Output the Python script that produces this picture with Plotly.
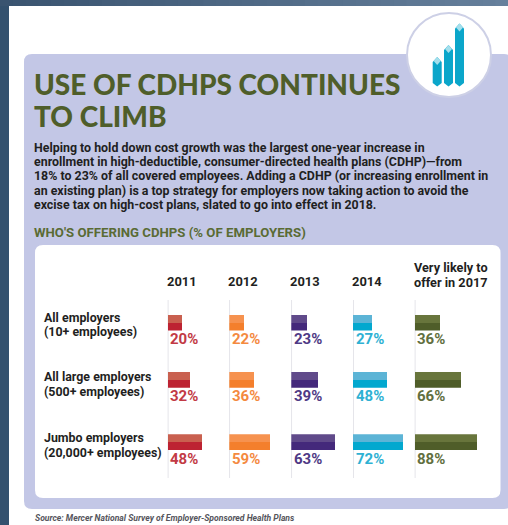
import plotly.graph_objects as go

WIDTH, HEIGHT = 508, 525

# Survey results, % of employers
columns = ["2011", "2012", "2013", "2014", "2017"]
all_employers = [20, 22, 23, 27, 36]
large_employers = [32, 36, 39, 48, 66]
jumbo_employers = [48, 59, 63, 72, 88]
rows = [all_employers, large_employers, jumbo_employers]

row_names = [
    ("All employers", "(10+ employees)"),
    ("All large employers", "(500+ employees)"),
    ("Jumbo employers", "(20,000+ employees)"),
]
light_colors = ["#c9604f", "#f6924f", "#604a8a", "#5cb4d6", "#68753c"]
dark_colors = ["#bd2332", "#f47f2c", "#44297b", "#02a8cf", "#4f5d29"]
label_colors = ["#c23a45", "#f48a3f", "#4f3a85", "#2eb1d3", "#626f40"]

title_lines = ["USE OF CDHPS CONTINUES", "TO CLIMB"]
body_lines = [
    "Helping to hold down cost growth was the largest one-year increase in",
    "enrollment in high-deductible, consumer-directed health plans (CDHP)—from",
    "18% to 23% of all covered employees. Adding a CDHP (or increasing enrollment in",
    "an existing plan) is a top strategy for employers now taking action to avoid the",
    "excise tax on high-cost plans, slated to go into effect in 2018.",
]
section_heading = "WHO'S OFFERING CDHPS (% OF EMPLOYERS)"
source_note = "Source: Mercer National Survey of Employer-Sponsored Health Plans"

# Layout in pixels
col_left = [167.7, 229.3, 291.3, 353.0, 414.7]
col_width = 70
row_top = [314.5, 371.7, 434.3]
row_height = 16
row_label_y = [(317, 331.5), (376.5, 391), (437.7, 452)]
body_y = [147, 161.5, 175.5, 190, 204]


def px(x):
    return x / WIDTH


def py(y):
    return 1 - y / HEIGHT


def rounded(x0, y0, x1, y1, r):
    return (
        f"M{px(x0 + r)},{py(y0)} L{px(x1 - r)},{py(y0)} Q{px(x1)},{py(y0)} {px(x1)},{py(y0 + r)} "
        f"L{px(x1)},{py(y1 - r)} Q{px(x1)},{py(y1)} {px(x1 - r)},{py(y1)} "
        f"L{px(x0 + r)},{py(y1)} Q{px(x0)},{py(y1)} {px(x0)},{py(y1 - r)} "
        f"L{px(x0)},{py(y0 + r)} Q{px(x0)},{py(y0)} {px(x0 + r)},{py(y0)} Z"
    )


def rect(x0, y0, x1, y1, color):
    return dict(type="rect", xref="paper", yref="paper", x0=px(x0), x1=px(x1),
                y0=py(y1), y1=py(y0), fillcolor=color, line_width=0, layer="below")


def poly(points, color):
    path = "M" + " L".join(f"{px(x)},{py(y)}" for x, y in points) + " Z"
    return dict(type="path", xref="paper", yref="paper", path=path,
                fillcolor=color, line_width=0, layer="above")


shapes = [rect(0, 0, WIDTH, HEIGHT, "#34516e")]

# Page edge: the top band lightens towards the right
band_steps = 40
for i in range(band_steps):
    t = i / (band_steps - 1)
    r, g, b = int(58 + 44 * t), int(84 + 44 * t), int(112 + 44 * t)
    shapes.append(rect(i * WIDTH / band_steps, 0, (i + 1) * WIDTH / band_steps + 1, 6, f"rgb({r},{g},{b})"))

shapes.append(rect(9, 6, WIDTH, HEIGHT, "#ffffff"))
shapes.append(dict(type="path", xref="paper", yref="paper", path=rounded(24, 54, 512, 509, 8),
                   fillcolor="#c3c7e6", line_width=0, layer="below"))
shapes.append(dict(type="path", xref="paper", yref="paper", path=rounded(35, 245, 500.5, 498, 8),
                   fillcolor="#ffffff", line_width=0, layer="below"))

# Round badge with a small rising bar glyph
shapes.append(dict(type="circle", xref="paper", yref="paper", x0=px(407), x1=px(491),
                   y0=py(97), y1=py(13), fillcolor="#ffffff",
                   line=dict(color="#cdd0e6", width=2), layer="above"))
for x0, x1, tip in [(432.7, 441.7, 57), (444, 453, 45), (455, 464, 23.5)]:
    mid = (x0 + x1) / 2
    shapes.append(poly([(x0, tip + 5), (mid, tip), (x1, tip + 5), (x1, 83), (mid, 86.5), (x0, 83)], "#0ba6ca"))
    shapes.append(poly([(x0 + 1, tip + 4), (mid, tip), (x1 - 1, tip + 4), (mid, tip + 8)], "#a4dfec"))

fig = go.Figure()
layout_axes = {}
annotations = []


def label(text, x, y, size, color, family="Roboto", weight=700, style="normal", anchor="left"):
    annotations.append(dict(text=text, xref="paper", yref="paper", x=px(x), y=py(y),
                            xanchor=anchor, yanchor="middle", showarrow=False, borderpad=0, borderwidth=0,
                            font=dict(family=family, size=size, color=color, weight=weight, style=style)))


for c, left in enumerate(col_left):
    key = "xaxis" if c == 0 else f"xaxis{c + 1}"
    layout_axes[key] = dict(domain=[px(left), px(left + col_width)], range=[0, 100],
                            visible=False, fixedrange=True, anchor="y")
    # Baseline rule running down each column
    shapes.append(dict(type="line", xref="x" if c == 0 else f"x{c + 1}", yref="paper",
                       x0=0, x1=0, y0=py(300), y1=py(478),
                       line=dict(color="#dcdce3", width=1.5), layer="below"))

for r, top in enumerate(row_top):
    key = "yaxis" if r == 0 else f"yaxis{r + 1}"
    layout_axes[key] = dict(domain=[py(top + row_height), py(top)], range=[0.5, -0.5],
                            visible=False, fixedrange=True, anchor="x", type="category")

for r, values in enumerate(rows):
    yref = "y" if r == 0 else f"y{r + 1}"
    for c, value in enumerate(values):
        xref = "x" if c == 0 else f"x{c + 1}"
        for color in (light_colors[c], dark_colors[c]):
            fig.add_trace(go.Bar(x=[value], y=[row_names[r][0]], orientation="h", xaxis=xref, yaxis=yref,
                                 marker=dict(color=color, line_width=0), showlegend=False, hoverinfo="skip"))
        annotations.append(dict(text=f"{value}%", xref=xref, yref=yref, x=0, y=row_names[r][0],
                                xanchor="center", yanchor="middle", xshift=16.5, yshift=-16.5, showarrow=False,
                                font=dict(family="Roboto", size=15, color=label_colors[c], weight=700)))

for line, y in zip(title_lines, (84, 116)):
    label(line, 34, y, 28, "#4f5e2a", family="Lato", weight=900)
for line, y in zip(body_lines, body_y):
    label(line, 34, y, 12.4, "#1f1f22")
label(section_heading, 34, 232, 13.2, "#5a6b34")

for c, left in enumerate(col_left[:4]):
    label(columns[c], left - 1, 281, 12.9, "#1f1f22")
label("Very likely to", col_left[4] - 1, 267, 12.7, "#1f1f22")
label(f"offer in {columns[4]}", col_left[4] - 1, 282, 12.7, "#1f1f22")

for names, ys in zip(row_names, row_label_y):
    label(names[0], 44, ys[0], 12.4, "#1f1f22")
    label(names[1], 44, ys[1], 12.4, "#1f1f22")

label(source_note, 35, 518, 8.6, "#55555c", style="italic")

fig.update_layout(
    width=WIDTH, height=HEIGHT, margin=dict(l=0, r=0, t=0, b=0),
    paper_bgcolor="#ffffff", plot_bgcolor="rgba(0,0,0,0)",
    barmode="group", bargap=0, bargroupgap=0,
    shapes=shapes, annotations=annotations, showlegend=False, **layout_axes,
)
fig.write_html("out.html", config=dict(displayModeBar=False))
